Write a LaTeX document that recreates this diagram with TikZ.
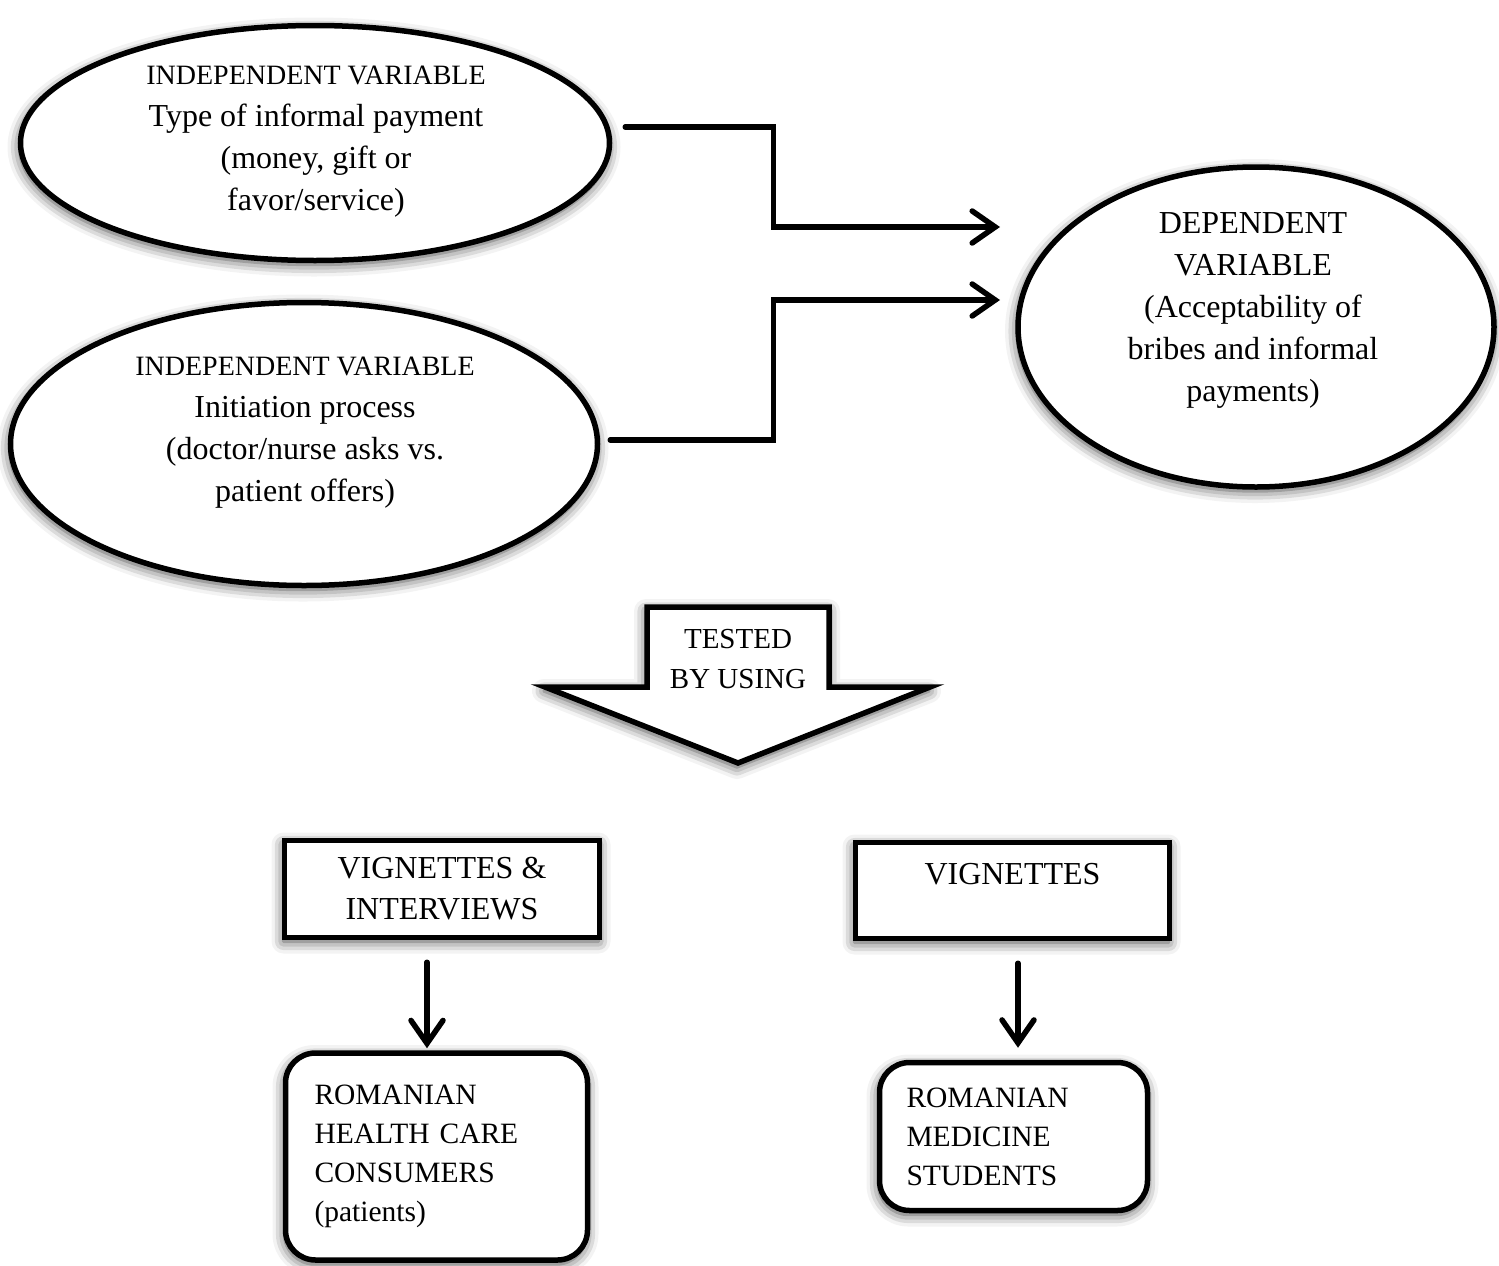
\documentclass[tikz,border=0pt]{standalone}
\usepackage{fontspec}
\setmainfont{Liberation Serif}
\usetikzlibrary{shapes.geometric,arrows.meta,shadows.blur}

\newcommand{\smallhead}[1]{{\fontsize{28}{42}\selectfont #1}}

\begin{document}
\begin{tikzpicture}[x=1pt,y=-1pt,line width=5.5pt,
  softshadow/.style={blur shadow={shadow xshift=-1pt,shadow yshift=-4pt,shadow blur radius=12pt,shadow opacity=75}},
  varshape/.style={ellipse,draw,fill=white,softshadow},
  vartext/.style={align=center,inner sep=0pt,font=\fontsize{32}{42}\selectfont},
  methodbox/.style={rectangle,draw,fill=white,softshadow,minimum width=315,minimum height=97,
    align=center,font=\fontsize{32}{41}\selectfont},
  groupbox/.style={rectangle,rounded corners=30pt,draw,fill=white,softshadow,align=left,
    inner sep=0pt,font=\fontsize{29.5}{39}\selectfont},
  flow/.style={-{Straight Barb[length=23pt,width=32pt,line cap=round]},line cap=round}
]
\useasboundingbox (0,0) rectangle (1499,1266);

% the variables
\node[varshape,minimum width=589,minimum height=235] (iv1) at (315,143) {};
\node[vartext] (iv1text) at (316,142) {\smallhead{INDEPENDENT VARIABLE}\\Type of informal payment\\(money, gift or\\favor/service)};
\node[varshape,minimum width=587,minimum height=283] (iv2) at (304,444) {};
\node[vartext] (iv2text) at (305,433) {\smallhead{INDEPENDENT VARIABLE}\\Initiation process\\(doctor/nurse asks vs.\\patient offers)};
\node[varshape,minimum width=476,minimum height=320] (dv) at (1256,327) {};
\node[vartext] (dvtext) at (1253,310) {DEPENDENT\\VARIABLE\\(Acceptability of\\bribes and informal\\payments)};

% the effects
\coordinate (in1) at (1000,227);
\coordinate (in2) at (1000,300);
\draw[flow] ([xshift=13pt,yshift=16pt]iv1.east) -- ++(148,0) |- (in1);
\draw[flow] ([xshift=10pt,yshift=4pt]iv2.east) -- ++(163,0) |- (in2);

% the block arrow
\draw[fill=white,softshadow,line join=miter]
  (647,607) -- (829,607) -- (829,687) -- (930,687) -- (738,763) -- (545,687) -- (647,687) -- cycle;
\node[vartext,font=\fontsize{29}{40}\selectfont] (tested) at (738,659) {TESTED\\BY USING};

% the methods
\node[methodbox] (m1) at (442,889) {VIGNETTES \&\\INTERVIEWS};
\node[methodbox,minimum width=314,minimum height=96] (m2) at (1012.5,890.5) {VIGNETTES\\[-20pt]\strut};

% the samples
\node[groupbox,minimum width=302,minimum height=207,text width=244] (s1) at (436.5,1156.5)
  {ROMANIAN\\HEALTH CARE\\CONSUMERS\\(patients)};
\node[groupbox,minimum width=268,minimum height=148,text width=214] (s2) at (1013.5,1136.5)
  {ROMANIAN\\MEDICINE\\STUDENTS};

% the arrows
\coordinate (a1) at ([xshift=-15pt,yshift=-22pt]m1.south);
\coordinate (a2) at ([xshift=5.5pt,yshift=-22pt]m2.south);
\draw[flow] (a1) -- ([yshift=2pt]a1 |- s1.north);
\draw[flow] (a2) -- ([yshift=12pt]a2 |- s2.north);
\end{tikzpicture}
\end{document}
